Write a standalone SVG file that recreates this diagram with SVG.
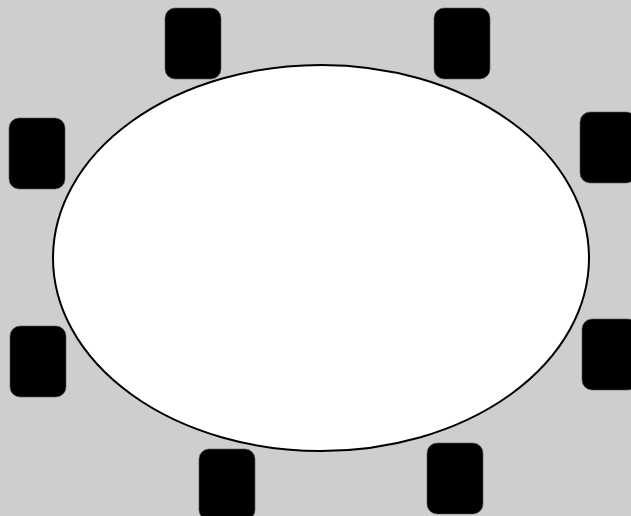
<svg xmlns="http://www.w3.org/2000/svg" width="631" height="516" viewBox="0 0 631 516">
<style>
.chair{fill:#000;stroke:#555;stroke-width:0.6}
.table{fill:#fff;stroke:#000;stroke-width:2}
</style>
<rect x="0" y="0" width="631" height="516" fill="#cfcdce"/>
<g id="chairs">
<g id="chair1"><rect class="chair" x="165" y="8" width="56" height="71" rx="10"/></g>
<g id="chair2"><rect class="chair" x="434" y="8" width="56" height="71" rx="10"/></g>
<g id="chair3"><rect class="chair" x="9" y="118" width="56" height="71" rx="10"/></g>
<g id="chair4"><rect class="chair" x="580" y="112" width="56" height="71" rx="10"/></g>
<g id="chair5"><rect class="chair" x="10" y="326" width="56" height="71" rx="10"/></g>
<g id="chair6"><rect class="chair" x="582" y="319" width="56" height="71" rx="10"/></g>
<g id="chair7"><rect class="chair" x="199" y="449" width="56" height="71" rx="10"/></g>
<g id="chair8"><rect class="chair" x="427" y="443" width="56" height="71" rx="10"/></g>
</g>
<g id="table"><ellipse class="table" cx="321" cy="258" rx="268" ry="193"/></g>
<g id="connectors"/>
</svg>
